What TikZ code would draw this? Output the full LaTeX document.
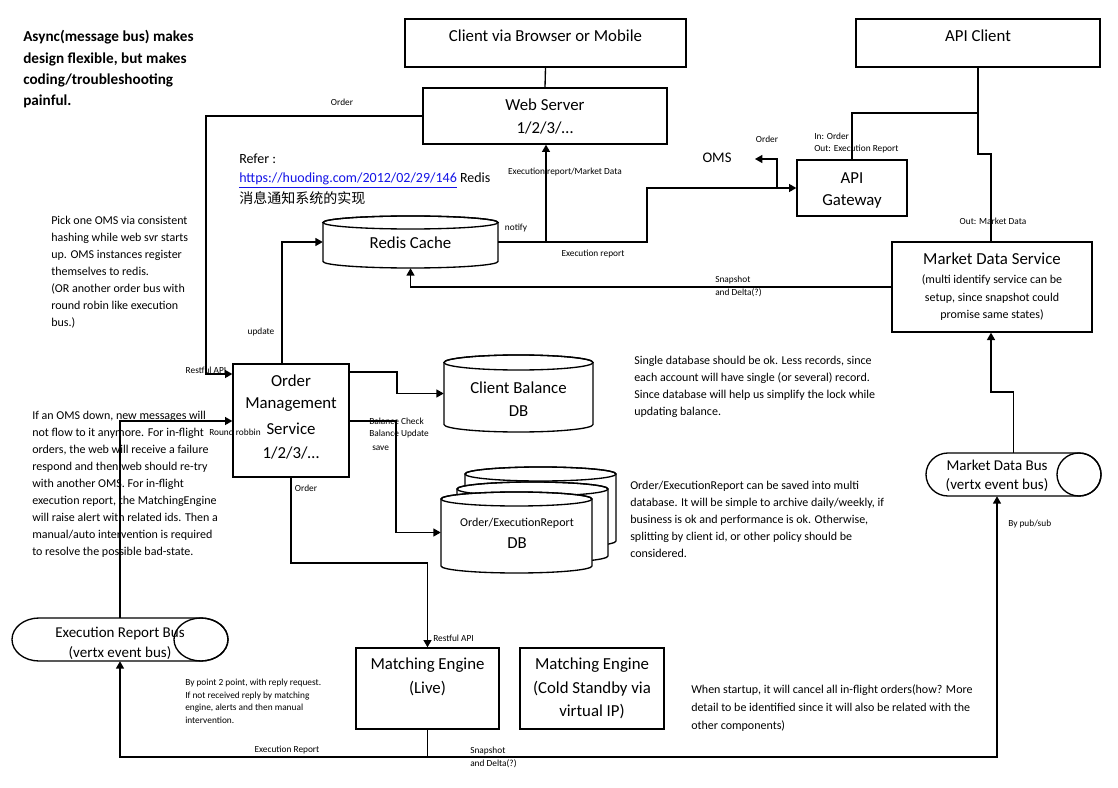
\documentclass[tikz,border=0pt]{standalone}
\usepackage{fontspec}
\setmainfont{Carlito}
\newfontfamily\cjkfont{Noto Sans CJK SC}
\usetikzlibrary{arrows.meta}
\definecolor{linkblue}{RGB}{20,20,230}
\newcommand\dbcylinder[5]{%
  \path[shp] ({#1-#4},#2) -- ({#1-#4},#3)
    arc[start angle=180,end angle=360,x radius={#4*0.75pt},y radius={#5*0.75pt}]
    -- ({#1+#4},#2)
    arc[start angle=0,end angle=180,x radius={#4*0.75pt},y radius={#5*0.75pt}] -- cycle;
  \draw[line width=1pt] (#1,#2) ellipse[x radius={#4*0.75pt}, y radius={#5*0.75pt}];
}
\newcommand\buscylinder[5]{%
  \path[shp] ({#1+#4},{#3-#5}) -- ({#2-#4},{#3-#5})
    arc[start angle=90,end angle=-90,x radius={#4*0.75pt},y radius={#5*0.75pt}]
    -- ({#1+#4},{#3+#5})
    arc[start angle=270,end angle=90,x radius={#4*0.75pt},y radius={#5*0.75pt}] -- cycle;
  \draw[line width=1pt] ({#2-#4},#3) ellipse[x radius={#4*0.75pt}, y radius={#5*0.75pt}];
}
\newcommand\bluelink[1]{{\color{linkblue}\underline{#1}}}
\begin{document}
\begin{tikzpicture}[x=0.75pt,y=-0.75pt,
  conn/.style={line width=1pt},
  arr/.style={conn,-{Triangle[length=5.5pt,width=6pt]}},
  box/.style={draw,line width=1pt,fill=white,inner sep=0pt},
  shp/.style={draw,line width=1pt,fill=white},
  hold/.style={inner sep=0pt},
  lab/.style={font=\fontsize{7}{8.5}\selectfont,inner sep=0pt},
  big/.style={font=\fontsize{12.6}{15}\selectfont,inner sep=0pt},
  mid/.style={font=\fontsize{11.25}{13}\selectfont,inner sep=0pt},
  sub/.style={font=\fontsize{9}{11}\selectfont,inner sep=0pt},
  refer/.style={font=\fontsize{10.5}{13}\selectfont,inner sep=0pt,anchor=base west},
  note/.style={font=\fontsize{9}{12.75}\selectfont,align=left,anchor=north west,inner sep=0pt},
  head/.style={font=\bfseries\fontsize{11.4}{16}\selectfont,align=left,anchor=north west,inner sep=0pt}
]
\useasboundingbox (0,0) rectangle (1118,788);
\fill[white] (0,0) rectangle (1118,788);

% ---- boxes ----
\node[box,minimum width=210.75pt,minimum height=36pt] (client) at (545.5,43) {};
\node[box,minimum width=183pt,minimum height=36pt] (apiclient) at (978,43) {};
\node[box,minimum width=183pt,minimum height=42pt] (web) at (545,116) {};
\node[box,minimum width=82.5pt,minimum height=42pt] (gw) at (852,188) {};
\node[box,minimum width=150pt,minimum height=67.5pt] (mds) at (992,287) {};
\node[box,minimum width=87pt,minimum height=84.75pt] (oms) at (291,420.5) {};
\node[box,minimum width=107.25pt,minimum height=60.75pt] (mel) at (427.5,688.5) {};
\node[box,minimum width=108pt,minimum height=60.75pt] (mec) at (592,688.5) {};

% ---- cylinders ----
\dbcylinder{410.5}{222.5}{261.5}{87.5}{6.5}
\dbcylinder{518.5}{362.5}{424.5}{74.5}{7.5}
\dbcylinder{540.5}{474}{541}{75.5}{7}
\dbcylinder{532.5}{489}{556}{75.5}{7}
\dbcylinder{516.5}{499}{566}{75.5}{7}
\buscylinder{926}{1101}{474.5}{22}{21.5}
\buscylinder{12}{228}{639.5}{27}{21.5}

\node[hold,minimum width=131.25pt,minimum height=39pt] (redis) at (410.5,242) {};
\node[hold,minimum width=111.75pt,minimum height=57.75pt] (cbdb) at (518.5,393.5) {};
\node[hold,minimum width=113.25pt,minimum height=60.75pt] (oerdb) at (516.5,532.5) {};
\node[hold,minimum width=131.25pt,minimum height=32.25pt] (mdb) at (1013.5,474.5) {};
\node[hold,minimum width=162pt,minimum height=32.25pt] (erb) at (120,639.5) {};
\coordinate (omstip) at (755,159);

% ---- connectors ----
\draw[conn] (client.south) -- (web.north);
\draw[arr] (web.west) -| (206,374) -- (oms.west |- 0,374);
\draw[arr] (erb.north) |- (oms.west |- 0,421);
\draw[arr] (oms.north -| 282,0) |- (redis.west);
\draw[arr] (redis.east) -- (647,242) |- (gw.west);
\draw[arr] (546,242) -- (web.south -| 546,0);
\draw[arr] (777,188) |- (omstip);
\draw[conn] (apiclient.south) -- (978,113) -| (gw.north);
\draw[conn] (978,113) |- (991,154) -- (mds.north -| 991,0);
\draw[arr] (mds.west) -| (redis.south);
\draw[arr] (mdb.north) |- (991,392) -- (mds.south -| 991,0);
\draw[arr] (oms.east |- 0,372) -- (397,372) |- (cbdb.west);
\draw[arr] (oms.east |- 0,421) -- (396,421) |- (oerdb.west);
\draw[arr] (oms.south) -- (291,563) -| (mel.north);
\draw[arr] (mel.south) -- (427.5,757) -| (erb.south);
\draw[arr] (427.5,757) -| (mdb.south -| 997,0);

% ---- box texts ----
\node[big] (tclient) at (545.5,36) {Client via Browser or Mobile};
\node[big] (tapic) at (978,36) {API Client};
\node[big] (tweb1) at (545,105) {Web Server};
\node[big] (tweb2) at (545,128) {1/2/3/…};
\node[big] (tgw1) at (852,178) {API};
\node[big] (tgw2) at (852,201) {Gateway};
\node[big] (tmds1) at (992,259) {Market Data Service};
\node[sub] (tmds2) at (992,280) {(multi identify service can be};
\node[sub] (tmds3) at (992,298) {setup, since snapshot could};
\node[sub] (tmds4) at (992,315) {promise same states)};
\node[big] (tredis) at (410.5,243) {Redis Cache};
\node[big] (toms1) at (291,381) {Order};
\node[big] (toms2) at (291,405) {Management};
\node[big] (toms3) at (291,429) {Service};
\node[big] (toms4) at (291,453) {1/2/3/…};
\node[big] (tcb1) at (518.5,388) {Client Balance};
\node[big] (tcb2) at (518.5,411) {DB};
\node[sub] (toer1) at (517,523) {Order/ExecutionReport};
\node[big] (toer2) at (517,543) {DB};
\node[mid] (tmdb1) at (997,465) {Market Data Bus};
\node[mid] (tmdb2) at (997,485) {(vertx event bus)};
\node[mid] (terb1) at (120,634) {Execution Report Bus};
\node[mid] (terb2) at (120,653) {(vertx event bus)};
\node[big] (tmel1) at (427.5,665) {Matching Engine};
\node[big] (tmel2) at (427.5,689) {(Live)};
\node[big] (tmec1) at (592,665) {Matching Engine};
\node[big] (tmec2) at (592,689) {(Cold Standby via};
\node[big] (tmec3) at (592,712) {virtual IP)};
\node[font=\fontsize{11}{13}\selectfont,inner sep=0pt] (omsl) at (717,158) {OMS};

% ---- connector labels ----
\node[lab] (lorder1) at (342,102) {Order};
\node[lab] (lrest1) at (206,370) {Restful API};
\node[lab] (lrr) at (235,432) {Round robbin};
\node[lab] (lupd) at (261,332) {update};
\node[lab] (lnotify) at (516,228) {notify};
\node[lab] (lermd) at (565,172) {Execution report/Market Data};
\node[lab] (ler) at (593,254) {Execution report};
\node[lab] (lorder2) at (767,139) {Order};
\node[lab,anchor=west] (lin) at (814,136) {In: Order};
\node[lab,anchor=west] (lout) at (814,149) {Out: Execution Report};
\node[lab] (loutmd) at (993,221) {Out: Market Data};
\node[lab,anchor=west] (lsnap1) at (715,280) {Snapshot};
\node[lab,anchor=west] (ldelta1) at (715,293) {and Delta(?)};
\node[lab,anchor=west] (lbc) at (369,421) {Balance Check};
\node[lab,anchor=west] (lbu) at (369,434) {Balance Update};
\node[lab,anchor=west] (lsave) at (372,448) {save};
\node[lab] (lorder3) at (306,488) {Order};
\node[lab,anchor=west] (lrest2) at (433,638) {Restful API};
\node[lab,anchor=west] (lpub) at (1008,524) {By pub/sub};
\node[lab] (lexr) at (287,750) {Execution Report};
\node[lab,anchor=west] (lsnap2) at (470,751) {Snapshot};
\node[lab,anchor=west] (ldelta2) at (470,764) {and Delta(?)};

% ---- refer ----
\node[refer] (ref1) at (239,164) {Refer :};
\node[refer] (ref2) at (239,183) {\bluelink{https://huoding.com/2012/02/29/146} Redis};
\node[refer] (ref3) at (239,204) {\cjkfont 消息通知系统的实现};

% ---- notes ----
\node[head] (nhead) at (23,30.2) {Async(message bus) makes\\design flexible, but makes\\coding/troubleshooting\\painful.};
\node[note] (npick) at (51,215.6) {Pick one OMS via consistent\\hashing while web svr starts\\up. OMS instances register\\themselves to redis.\\(OR another order bus with\\round robin like execution\\bus.)};
\node[note] (ndown) at (32,410.6) {If an OMS down, new messages will\\not flow to it anymore.  For in-flight\\orders, the web will receive a failure\\respond and then web should re-try\\with another OMS. For in-flight\\execution report,  the MatchingEngine\\will raise alert with related ids. Then a\\manual/auto intervention  is required\\to resolve the possible bad-state.};
\node[note] (nsingle) at (634,355.6) {Single database should be ok. Less records, since\\each account  will have single (or several) record.\\Since database will help us simplify the lock while\\updating balance.};
\node[note] (nmulti) at (630,480.6) {Order/ExecutionReport  can be saved into multi\\database. It will be simple to archive daily/weekly, if\\business is ok and performance is ok. Otherwise,\\splitting by client id, or other policy should be\\considered.};
\node[note,font=\fontsize{9}{13.4}\selectfont] (nstart) at (691,684.6) {When startup, it will cancel all in-flight orders(how?  More\\detail to be identified since it will also be related with the\\other components)};
\node[note,font=\fontsize{7}{9.5}\selectfont] (np2p) at (185,678.8) {By point 2 point, with reply request.\\If not received reply by matching\\engine, alerts and then manual\\intervention.};
\end{tikzpicture}
\end{document}
